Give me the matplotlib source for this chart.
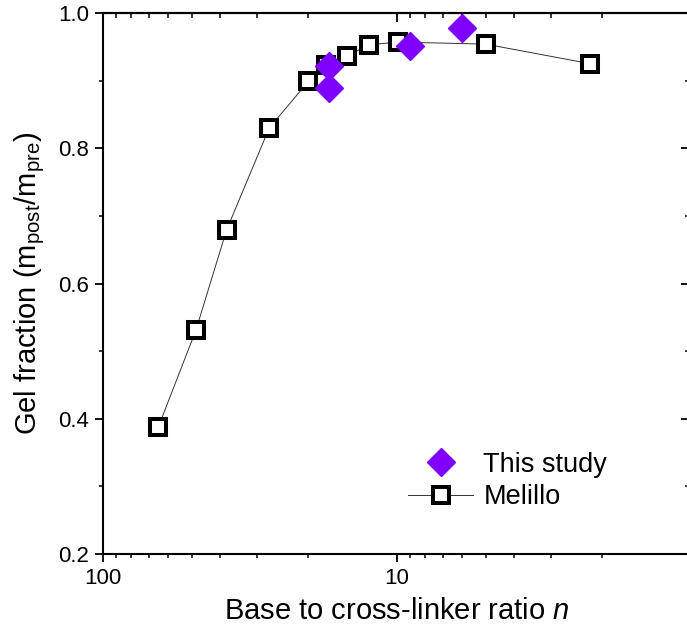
import numpy as np
import matplotlib
matplotlib.use('Agg')
import matplotlib.pyplot as plt
from matplotlib.ticker import LogLocator, MultipleLocator, FixedLocator, NullFormatter

plt.rcParams['font.family'] = ['Liberation Sans', 'DejaVu Sans']
plt.rcParams['mathtext.fontset'] = 'custom'
plt.rcParams['mathtext.rm'] = 'Liberation Sans'
plt.rcParams['mathtext.it'] = 'Liberation Sans:italic'

# data
melillo_n = [64.8, 48.3, 38.0, 27.2, 20.0, 17.4, 14.8, 12.5, 9.9, 5.0, 2.2]
melillo_gf = [0.388, 0.531, 0.679, 0.830, 0.899, 0.923, 0.936, 0.953, 0.957, 0.954, 0.925]
study_n = [17.0, 17.0, 9.0, 6.0]
study_gf = [0.921, 0.889, 0.951, 0.978]

x_major = [100, 10, 1]
x_major_labels = ['100', '10', '']  # the "1" falls off the cropped right edge
y_major = [0.2, 0.4, 0.6, 0.8, 1.0]

W, H = 687, 630
fig = plt.figure(figsize=(W / 100, H / 100), dpi=100)
ax = fig.add_axes([103 / W, (H - 554) / H, 588 / W, 541 / H])

ax.plot(melillo_n, melillo_gf, color='#333333', lw=0.7, marker='s', ms=11.5,
        mfc='white', mec='black', mew=2.9, label='Melillo', zorder=2)
ax.plot(study_n, study_gf, ls='none', marker='D', ms=14, color='#8000ff',
        mec='#8000ff', label='This study', zorder=3)

ax.set_xscale('log')
ax.set_xlim(100, 1)
ax.set_ylim(0.2, 1.0)

ax.xaxis.set_major_locator(FixedLocator(x_major))
ax.set_xticklabels(x_major_labels)
ax.xaxis.set_minor_locator(LogLocator(base=10, subs=np.arange(2, 10)))
ax.xaxis.set_minor_formatter(NullFormatter())
ax.yaxis.set_major_locator(FixedLocator(y_major))
ax.yaxis.set_minor_locator(MultipleLocator(0.1))
ax.set_yticklabels([f'{v:.1f}' for v in y_major])

for s in ax.spines.values():
    s.set_linewidth(1.5)

ax.tick_params(which='major', direction='out', length=6, width=1.3, labelsize=16, pad=4)
ax.tick_params(which='minor', direction='out', length=3, width=1.1)

# mirrored ticks on top and right, pointing inward
top = ax.secondary_xaxis('top')
top.xaxis.set_major_locator(FixedLocator(x_major))
top.xaxis.set_minor_locator(LogLocator(base=10, subs=np.arange(2, 10)))
top.tick_params(which='major', direction='in', length=6.5, width=1.3, labeltop=False)
top.tick_params(which='minor', direction='in', length=3.5, width=1.1)
right = ax.secondary_yaxis('right')
right.yaxis.set_major_locator(FixedLocator(y_major))
right.yaxis.set_minor_locator(MultipleLocator(0.1))
right.tick_params(which='major', direction='in', length=7.5, width=1.3, labelright=False)
right.tick_params(which='minor', direction='in', length=4.5, width=1.1)
for a in (top, right):
    for s in a.spines.values():
        s.set_linewidth(1.5)

ax.set_xlabel('Base to cross-linker ratio $\\it{n}$', fontsize=21, labelpad=6)
ax.set_ylabel('Gel fraction (m$_\\mathregular{post}$/m$_\\mathregular{pre}$)', fontsize=21, labelpad=8)

h, l = ax.get_legend_handles_labels()
ax.legend(h[::-1], l[::-1], loc='center left', bbox_to_anchor=(0.519, 0.135),
          frameon=False, fontsize=19.5, borderpad=0, borderaxespad=0,
          handlelength=2.4, handletextpad=0.38, labelspacing=0.25)

fig.savefig('out.png', dpi=100)
